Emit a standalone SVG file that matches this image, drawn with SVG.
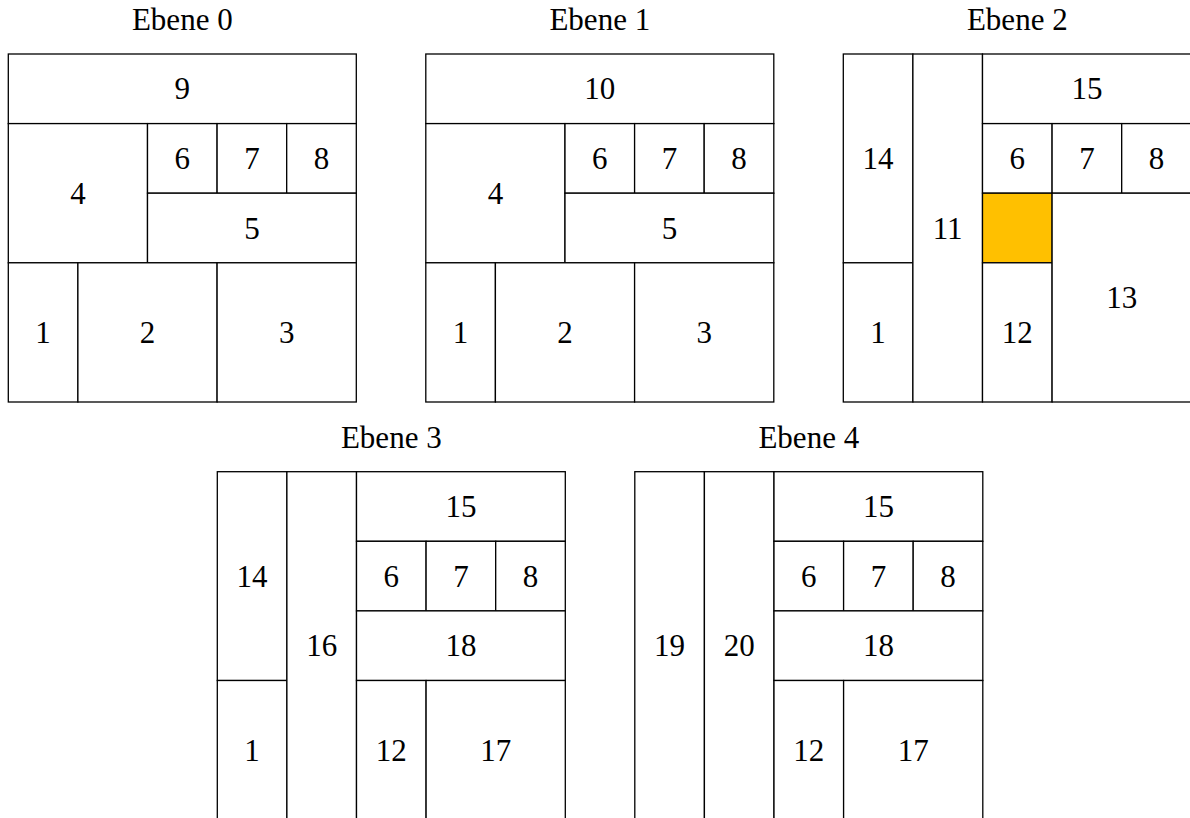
<svg xmlns="http://www.w3.org/2000/svg" width="1190" height="818" viewBox="0 0 1190 818">
<style>
rect{fill:#fff;stroke:#000;stroke-width:1.3}
rect.hl{fill:#FFC000}
text{font-family:"Liberation Serif","Times New Roman",serif;font-size:31px;fill:#000;text-anchor:middle}
</style>
<rect x="0" y="0" width="1190" height="818" style="stroke:none"/>

<g id="ebene0">
<text x="182.3" y="30">Ebene 0</text>
<g id="e0-9"><rect x="8.3" y="54" width="348" height="69.6"/><text x="182.3" y="99.3">9</text></g>
<g id="e0-4"><rect x="8.3" y="123.6" width="139.2" height="139.2"/><text x="77.9" y="203.7">4</text></g>
<g id="e0-6"><rect x="147.5" y="123.6" width="69.6" height="69.6"/><text x="182.3" y="168.9">6</text></g>
<g id="e0-7"><rect x="217.1" y="123.6" width="69.6" height="69.6"/><text x="251.9" y="168.9">7</text></g>
<g id="e0-8"><rect x="286.7" y="123.6" width="69.6" height="69.6"/><text x="321.5" y="168.9">8</text></g>
<g id="e0-5"><rect x="147.5" y="193.2" width="208.8" height="69.6"/><text x="251.9" y="238.5">5</text></g>
<g id="e0-1"><rect x="8.3" y="262.8" width="69.6" height="139.2"/><text x="43.1" y="342.9">1</text></g>
<g id="e0-2"><rect x="77.9" y="262.8" width="139.2" height="139.2"/><text x="147.5" y="342.9">2</text></g>
<g id="e0-3"><rect x="217.1" y="262.8" width="139.2" height="139.2"/><text x="286.7" y="342.9">3</text></g>
</g>

<g id="ebene1" transform="translate(417.5,0)">
<text x="182.3" y="30">Ebene 1</text>
<g id="e1-10"><rect x="8.3" y="54" width="348" height="69.6"/><text x="182.3" y="99.3">10</text></g>
<g id="e1-4"><rect x="8.3" y="123.6" width="139.2" height="139.2"/><text x="77.9" y="203.7">4</text></g>
<g id="e1-6"><rect x="147.5" y="123.6" width="69.6" height="69.6"/><text x="182.3" y="168.9">6</text></g>
<g id="e1-7"><rect x="217.1" y="123.6" width="69.6" height="69.6"/><text x="251.9" y="168.9">7</text></g>
<g id="e1-8"><rect x="286.7" y="123.6" width="69.6" height="69.6"/><text x="321.5" y="168.9">8</text></g>
<g id="e1-5"><rect x="147.5" y="193.2" width="208.8" height="69.6"/><text x="251.9" y="238.5">5</text></g>
<g id="e1-1"><rect x="8.3" y="262.8" width="69.6" height="139.2"/><text x="43.1" y="342.9">1</text></g>
<g id="e1-2"><rect x="77.9" y="262.8" width="139.2" height="139.2"/><text x="147.5" y="342.9">2</text></g>
<g id="e1-3"><rect x="217.1" y="262.8" width="139.2" height="139.2"/><text x="286.7" y="342.9">3</text></g>
</g>

<g id="ebene2" transform="translate(835,0)">
<text x="182.3" y="30">Ebene 2</text>
<g id="e2-14"><rect x="8.3" y="54" width="69.6" height="208.8"/><text x="43.1" y="168.9">14</text></g>
<g id="e2-1"><rect x="8.3" y="262.8" width="69.6" height="139.2"/><text x="43.1" y="342.9">1</text></g>
<g id="e2-11"><rect x="77.9" y="54" width="69.6" height="348"/><text x="112.7" y="238.5">11</text></g>
<g id="e2-15"><rect x="147.5" y="54" width="208.8" height="69.6"/><text x="251.9" y="99.3">15</text></g>
<g id="e2-6"><rect x="147.5" y="123.6" width="69.6" height="69.6"/><text x="182.3" y="168.9">6</text></g>
<g id="e2-7"><rect x="217.1" y="123.6" width="69.6" height="69.6"/><text x="251.9" y="168.9">7</text></g>
<g id="e2-8"><rect x="286.7" y="123.6" width="69.6" height="69.6"/><text x="321.5" y="168.9">8</text></g>
<g id="e2-hl"><rect class="hl" x="147.5" y="193.2" width="69.6" height="69.6"/></g>
<g id="e2-12"><rect x="147.5" y="262.8" width="69.6" height="139.2"/><text x="182.3" y="342.9">12</text></g>
<g id="e2-13"><rect x="217.1" y="193.2" width="139.2" height="208.8"/><text x="286.7" y="308.1">13</text></g>
</g>

<g id="ebene3" transform="translate(209,417.7)">
<text x="182.3" y="30">Ebene 3</text>
<g id="e3-14"><rect x="8.3" y="54" width="69.6" height="208.8"/><text x="43.1" y="168.9">14</text></g>
<g id="e3-1"><rect x="8.3" y="262.8" width="69.6" height="139.2"/><text x="43.1" y="342.9">1</text></g>
<g id="e3-16"><rect x="77.9" y="54" width="69.6" height="348"/><text x="112.7" y="238.5">16</text></g>
<g id="e3-15"><rect x="147.5" y="54" width="208.8" height="69.6"/><text x="251.9" y="99.3">15</text></g>
<g id="e3-6"><rect x="147.5" y="123.6" width="69.6" height="69.6"/><text x="182.3" y="168.9">6</text></g>
<g id="e3-7"><rect x="217.1" y="123.6" width="69.6" height="69.6"/><text x="251.9" y="168.9">7</text></g>
<g id="e3-8"><rect x="286.7" y="123.6" width="69.6" height="69.6"/><text x="321.5" y="168.9">8</text></g>
<g id="e3-18"><rect x="147.5" y="193.2" width="208.8" height="69.6"/><text x="251.9" y="238.5">18</text></g>
<g id="e3-12"><rect x="147.5" y="262.8" width="69.6" height="139.2"/><text x="182.3" y="342.9">12</text></g>
<g id="e3-17"><rect x="217.1" y="262.8" width="139.2" height="139.2"/><text x="286.7" y="342.9">17</text></g>
</g>

<g id="ebene4" transform="translate(626.5,417.7)">
<text x="182.3" y="30">Ebene 4</text>
<g id="e4-19"><rect x="8.3" y="54" width="69.6" height="348"/><text x="43.1" y="238.5">19</text></g>
<g id="e4-20"><rect x="77.9" y="54" width="69.6" height="348"/><text x="112.7" y="238.5">20</text></g>
<g id="e4-15"><rect x="147.5" y="54" width="208.8" height="69.6"/><text x="251.9" y="99.3">15</text></g>
<g id="e4-6"><rect x="147.5" y="123.6" width="69.6" height="69.6"/><text x="182.3" y="168.9">6</text></g>
<g id="e4-7"><rect x="217.1" y="123.6" width="69.6" height="69.6"/><text x="251.9" y="168.9">7</text></g>
<g id="e4-8"><rect x="286.7" y="123.6" width="69.6" height="69.6"/><text x="321.5" y="168.9">8</text></g>
<g id="e4-18"><rect x="147.5" y="193.2" width="208.8" height="69.6"/><text x="251.9" y="238.5">18</text></g>
<g id="e4-12"><rect x="147.5" y="262.8" width="69.6" height="139.2"/><text x="182.3" y="342.9">12</text></g>
<g id="e4-17"><rect x="217.1" y="262.8" width="139.2" height="139.2"/><text x="286.7" y="342.9">17</text></g>
</g>
<g id="connectors"/>
</svg>
